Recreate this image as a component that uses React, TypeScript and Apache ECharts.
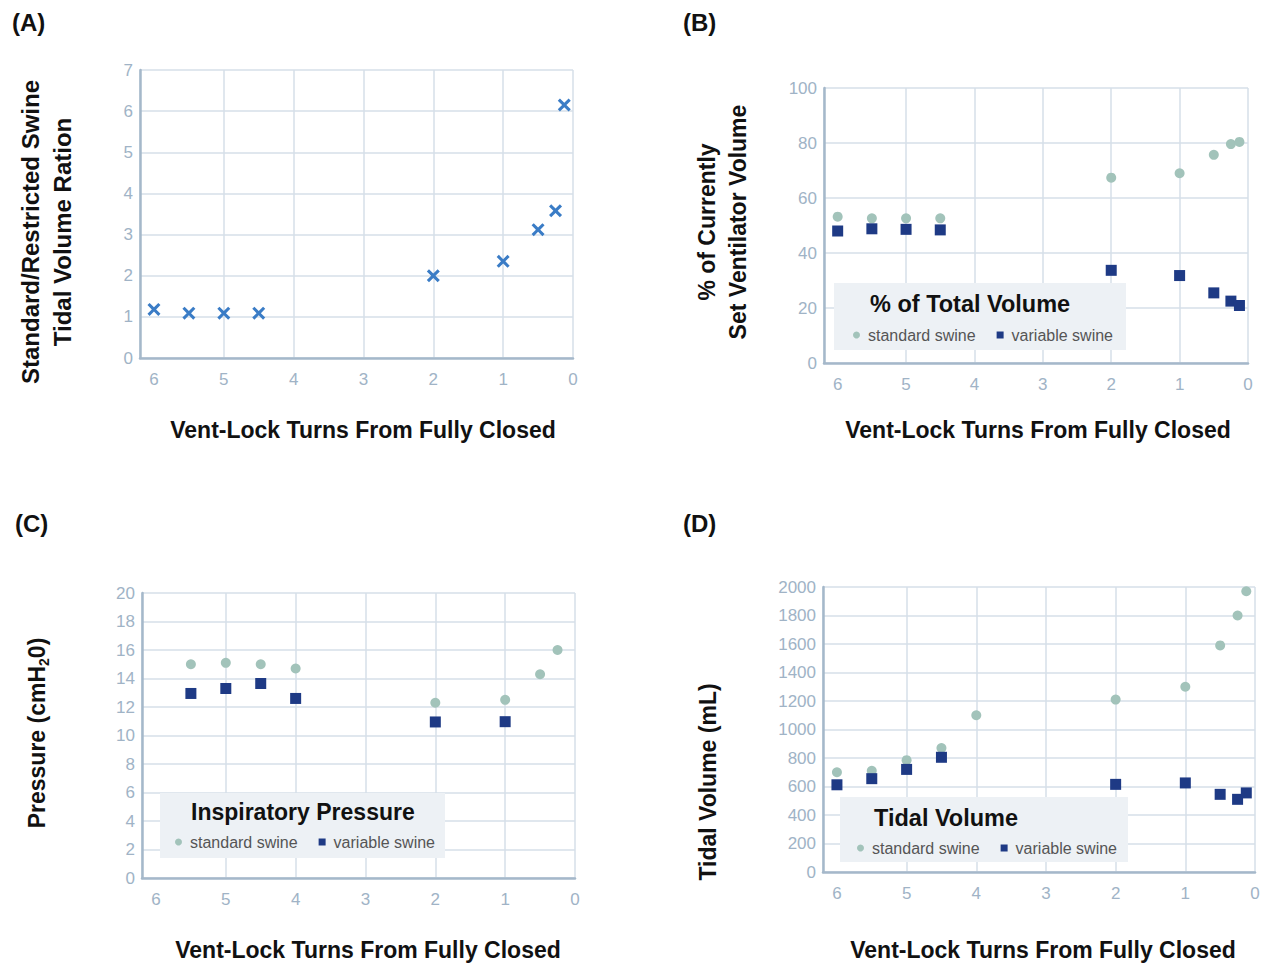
import React, { useEffect, useRef } from 'react';
import * as echarts from 'echarts';

// ---------- data ----------
const ratioX = [6, 5.5, 5, 4.5, 2, 1, 0.5, 0.25, 0.125];
const ratioY = [1.18, 1.09, 1.09, 1.09, 2.0, 2.35, 3.12, 3.58, 6.15];

const pctX = [6, 5.5, 5, 4.5, 2, 1, 0.5, 0.25, 0.125];
const pctStandard = [53.2, 52.6, 52.6, 52.6, 67.4, 69.0, 75.7, 79.6, 80.4];
const pctVariable = [48.0, 48.8, 48.6, 48.4, 33.7, 31.8, 25.5, 22.5, 20.9];

const pressStdX = [5.5, 5, 4.5, 4, 2, 1, 0.5, 0.25];
const pressStandard = [15.0, 15.1, 15.0, 14.7, 12.3, 12.5, 14.3, 16.0];
const pressVarX = [5.5, 5, 4.5, 4, 2, 1];
const pressVariable = [12.95, 13.3, 13.65, 12.6, 10.95, 10.97];

const tvStdX = [6, 5.5, 5, 4.5, 4, 2, 1, 0.5, 0.25, 0.125];
const tvStandard = [700, 710, 785, 870, 1100, 1210, 1300, 1590, 1800, 1970];
const tvVarX = [6, 5.5, 5, 4.5, 2, 1, 0.5, 0.25, 0.125];
const tvVariable = [612, 655, 720, 805, 615, 625, 545, 510, 555];

const xTitle = 'Vent-Lock Turns From Fully Closed';
const seriesNames = ['standard swine', 'variable swine'];

// ---------- styles ----------
const FONT = '"Liberation Sans", Arial, Helvetica, sans-serif';
const axisColor = '#a5b8ca';
const gridColor = '#d6dfe8';
const labelColor = '#a0b3c6';
const stdColor = '#a2c3ba';
const varColor = '#1e3a85';
const xColor = '#3a7cc6';
const boxColor = '#edf1f5';
const TITLE = 23;

const zip = (xs: number[], ys: number[]) => xs.map((x, i) => [x, ys[i]]);

const gridLineColors = [gridColor, gridColor, gridColor, gridColor, gridColor, gridColor, 'rgba(0,0,0,0)', gridColor];

function xAxisFor(gridIndex: number) {
  return {
    type: 'value',
    gridIndex,
    min: 0,
    max: 6.2,
    interval: 1,
    inverse: true,
    axisLine: { show: true, onZero: false, lineStyle: { color: axisColor, width: 2.5 } },
    axisTick: { show: false },
    axisLabel: {
      color: labelColor,
      fontSize: 17,
      fontFamily: FONT,
      margin: 13,
      formatter: (v: number) => (Number.isInteger(v) ? String(v) : ''),
    },
    splitLine: { show: true, lineStyle: { color: gridLineColors, width: 1.5 } },
  };
}

function yAxisFor(gridIndex: number, max: number, interval: number) {
  return {
    type: 'value',
    gridIndex,
    min: 0,
    max,
    interval,
    axisLine: { show: true, onZero: false, lineStyle: { color: axisColor, width: 2.5 } },
    axisTick: { show: false },
    axisLabel: { color: labelColor, fontSize: 17, fontFamily: FONT, margin: 7, formatter: (v: number) => String(v) },
    splitLine: { show: true, lineStyle: { color: gridColor, width: 1.5 } },
  };
}

function pair(idx: number, stdData: number[][], varData: number[][]) {
  return [
    {
      name: seriesNames[0],
      type: 'scatter',
      xAxisIndex: idx,
      yAxisIndex: idx,
      symbol: 'circle',
      symbolSize: 10,
      itemStyle: { color: stdColor, opacity: 1 },
      data: stdData,
    },
    {
      name: seriesNames[1],
      type: 'scatter',
      xAxisIndex: idx,
      yAxisIndex: idx,
      symbol: 'rect',
      symbolSize: 11,
      itemStyle: { color: varColor, opacity: 1 },
      data: varData,
    },
  ];
}

function legendAt(left: number, top: number) {
  return {
    left,
    top,
    padding: 0,
    itemWidth: 7,
    itemHeight: 7,
    itemGap: 21,
    selectedMode: false,
    data: [
      { name: seriesNames[0], icon: 'circle' },
      { name: seriesNames[1], icon: 'rect' },
    ],
    textStyle: { color: '#555', fontSize: 16, fontFamily: FONT, padding: [0, 0, 0, 3] },
  };
}

const boldText = (text: string, x: number, y: number, size: number, opts: any = {}) => ({
  type: 'text',
  x,
  y,
  z: 5,
  rotation: opts.rotation || 0,
  style: {
    text,
    fill: '#111',
    font: `bold ${size}px ${FONT}`,
    align: opts.align || 'center',
    verticalAlign: 'middle',
    lineHeight: opts.lineHeight || size,
  },
});

const box = (x: number, y: number, w: number, h: number) => ({
  type: 'rect',
  z: 3,
  shape: { x, y, width: w, height: h },
  style: { fill: boxColor },
});

export default function App() {
  const ref = useRef<HTMLDivElement>(null);

  useEffect(() => {
    if (!ref.current) return;
    const chart = echarts.init(ref.current, null, { renderer: 'svg' });
    const option: any = {
      animation: false,
      backgroundColor: '#ffffff',
      textStyle: { fontFamily: FONT },
      grid: [
        { left: 140, top: 70, width: 433, height: 288 },
        { left: 824, top: 88, width: 424, height: 275 },
        { left: 142, top: 593, width: 433, height: 285 },
        { left: 823, top: 587, width: 432, height: 285 },
      ],
      xAxis: [xAxisFor(0), xAxisFor(1), xAxisFor(2), xAxisFor(3)],
      yAxis: [yAxisFor(0, 7, 1), yAxisFor(1, 100, 20), yAxisFor(2, 20, 2), yAxisFor(3, 2000, 200)],
      legend: [legendAt(853, 327), legendAt(175, 834), legendAt(857, 840)],
      series: [
        {
          name: 'ratio',
          type: 'scatter',
          xAxisIndex: 0,
          yAxisIndex: 0,
          symbol: 'path://M2,0 L6,4 L10,0 L12,2 L8,6 L12,10 L10,12 L6,8 L2,12 L0,10 L4,6 L0,2 Z',
          symbolSize: 13,
          itemStyle: { color: xColor, opacity: 1 },
          data: zip(ratioX, ratioY),
        },
        ...pair(1, zip(pctX, pctStandard), zip(pctX, pctVariable)),
        ...pair(2, zip(pressStdX, pressStandard), zip(pressVarX, pressVariable)),
        ...pair(3, zip(tvStdX, tvStandard), zip(tvVarX, tvVariable)),
      ],
      graphic: [
        // panel letters
        boldText('(A)', 12, 22, 24, { align: 'left' }),
        boldText('(B)', 683, 22, 24, { align: 'left' }),
        boldText('(C)', 15, 523, 24, { align: 'left' }),
        boldText('(D)', 683, 523, 24, { align: 'left' }),
        // x titles
        boldText(xTitle, 363, 430, TITLE),
        boldText(xTitle, 1038, 430, TITLE),
        boldText(xTitle, 368, 950, TITLE),
        boldText(xTitle, 1043, 950, TITLE),
        // y titles
        boldText('Standard/Restricted Swine\nTidal Volume Ration', 46, 232, 24, { rotation: Math.PI / 2, lineHeight: 32 }),
        boldText('% of Currently\nSet Ventilator Volume', 722, 222, TITLE, { rotation: Math.PI / 2, lineHeight: 31 }),
        {
          type: 'text',
          x: 37,
          y: 733,
          z: 5,
          rotation: Math.PI / 2,
          style: {
            text: '{a|Pressure (cmH}{s|2}{a|0)}',
            align: 'center',
            verticalAlign: 'middle',
            rich: {
              a: { fill: '#111', fontSize: TITLE, fontWeight: 'bold', fontFamily: FONT, lineHeight: 28 },
              s: { fill: '#111', fontSize: 14, fontWeight: 'bold', fontFamily: FONT, lineHeight: 14, verticalAlign: 'bottom' },
            },
          },
        },
        boldText('Tidal Volume (mL)', 708, 782, TITLE, { rotation: Math.PI / 2 }),
        // legend boxes
        box(834, 283, 292, 67),
        box(160, 793, 285, 65),
        box(840, 797, 288, 65),
        // legend titles
        boldText('% of Total Volume', 870, 304, 23.5, { align: 'left' }),
        boldText('Inspiratory Pressure', 191, 812, 23, { align: 'left' }),
        boldText('Tidal Volume', 874, 818, 23.5, { align: 'left' }),
      ],
    };
    chart.setOption(option);
    return () => chart.dispose();
  }, []);

  return <div ref={ref} style={{ position: 'absolute', left: 0, top: 0, width: 1263, height: 966 }} />;
}
